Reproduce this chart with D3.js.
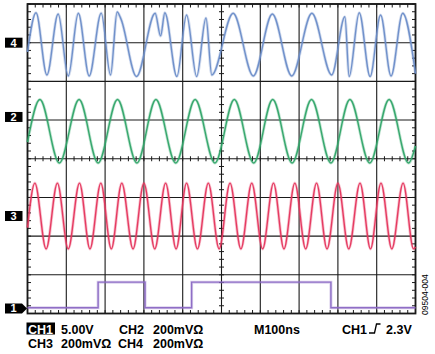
<!DOCTYPE html>
<html>
<head>
<meta charset="utf-8">
<script src="https://cdn.jsdelivr.net/npm/d3@7"></script>
<style>
  body { margin: 0; background: #fff; }
  svg { display: block; font-family: "Liberation Sans", Arial, sans-serif; }
</style>
</head>
<body>
<svg id="scope" width="435" height="354"></svg>
<script>

// CH1: digital data, volts
const ch1Time = [0, 182, 303, 423, 782, 1000];
const ch1Volts = [0.1, 3.4, 0.1, 3.4, 0.1, 0.1];

// CH2: 10MHz carrier, mV
const ch2Time = [0, 32, 82, 133, 182, 232, 282, 331, 382, 432, 483, 533, 583, 632, 682, 732, 782, 831, 882, 932, 982, 1000];
const ch2mV = [-130, 90, -238, 90, -238, 90, -238, 90, -238, 90, -238, 90, -238, 90, -238, 90, -238, 90, -238, 90, -238, -150];

// CH3: ~18MHz, mV
const ch3Time = [0, 19, 48, 77, 105, 134, 161, 189, 216, 243, 272, 300, 328, 356, 383, 410, 438, 466, 494,
                 522, 550, 578, 606, 634, 661, 689, 717, 745, 772, 800, 828, 857, 884, 911, 939, 968, 995, 1000];
const ch3mV = [-60, 170, -170, 170, -170, 170, -170, 170, -170, 170, -170, 170, -170, 170, -170, 170, -170, 170, -170,
               170, -170, 170, -170, 170, -170, 170, -170, 170, -170, 170, -170, 170, -170, 170, -170, 170, -170, -160];

// CH4: FSK output, mV
const ch4Time = [0, 22, 50, 79, 105, 131, 159, 190, 214, 231, 241, 281, 329, 343, 354, 385, 410, 436, 460, 475,
                 530, 582, 631, 681, 733, 784, 818, 829, 855, 883, 910, 937, 967, 1000];
const ch4mV = [-48, 155, -167, 148, -172, 152, -172, 153, -167, 159, 122, -175, 152, 35, 155, -175, 143, -175, 128, -167,
               152, -172, 148, -172, 152, -167, 134, -175, 155, -175, 143, -172, 152, -160];

const statusLine1 = [
  { text: '5.00V', x: 61 }, { text: 'CH2', x: 119 }, { text: '200mVΩ', x: 153 },
  { text: 'M100ns', x: 254 }, { text: 'CH1', x: 342 }, { text: '2.3V', x: 386 }
];
const statusLine2 = [
  { text: 'CH3', x: 28 }, { text: '200mVΩ', x: 61 }, { text: 'CH4', x: 118 }, { text: '200mVΩ', x: 153 }
];

const channels = [
  { id: '4', time: ch4Time, values: ch4mV, perDiv: 200, offset: 3, color: '#6a8cc8' },
  { id: '2', time: ch2Time, values: ch2mV, perDiv: 200, offset: 1.08, color: '#2fa468' },
  { id: '3', time: ch3Time, values: ch3mV, perDiv: 200, offset: -1.48, color: '#e5345c' },
  { id: '1', time: ch1Time, values: ch1Volts, perDiv: 5, offset: -3.87, color: '#8a68c4', step: true }
];

const plotLeft = 27.5, plotRight = 415.5, plotTop = 4, plotBottom = 313.5;

const svg = d3.select('#scope');
const x = d3.scaleLinear().domain([0, 1000]).range([plotLeft, plotRight]);
const y = d3.scaleLinear().domain([-4, 4]).range([plotBottom, plotTop]);

// graticule
const grid = svg.append('g').attr('stroke', '#1a1a1a').attr('fill', 'none');
grid.selectAll('.vl').data(x.ticks(10)).join('line')
  .attr('class', 'vl')
  .attr('x1', d => x(d)).attr('x2', d => x(d)).attr('y1', plotTop).attr('y2', plotBottom)
  .attr('stroke-width', 1.1);
grid.selectAll('.hl').data(y.ticks(8)).join('line')
  .attr('class', 'hl')
  .attr('x1', plotLeft).attr('x2', plotRight).attr('y1', d => y(d)).attr('y2', d => y(d))
  .attr('stroke-width', 1.1);
grid.append('rect')
  .attr('x', plotLeft).attr('y', plotTop).attr('width', plotRight - plotLeft).attr('height', plotBottom - plotTop)
  .attr('stroke-width', 1.8);

const minorX = d3.range(0, 1000.1, 20);
const minorY = d3.range(-4, 4.01, 0.2);
const ticks = svg.append('g').attr('stroke', '#1a1a1a').attr('stroke-width', 1);
// minor ticks on the border and on the two centre lines
minorX.forEach(t => {
  ticks.append('line').attr('x1', x(t)).attr('x2', x(t)).attr('y1', plotTop).attr('y2', plotTop + 3.5);
  ticks.append('line').attr('x1', x(t)).attr('x2', x(t)).attr('y1', plotBottom).attr('y2', plotBottom - 3.5);
  ticks.append('line').attr('x1', x(t)).attr('x2', x(t)).attr('y1', y(0) - 2.5).attr('y2', y(0) + 2.5);
});
minorY.forEach(v => {
  ticks.append('line').attr('y1', y(v)).attr('y2', y(v)).attr('x1', plotLeft).attr('x2', plotLeft + 3.5);
  ticks.append('line').attr('y1', y(v)).attr('y2', y(v)).attr('x1', plotRight).attr('x2', plotRight - 3.5);
  ticks.append('line').attr('y1', y(v)).attr('y2', y(v)).attr('x1', x(500) - 2.5).attr('x2', x(500) + 2.5);
});

// traces
const traces = svg.append('g');
channels.forEach(ch => {
  const pts = ch.time.map((t, i) => [t, ch.values[i]]);
  const line = d3.line()
    .x(d => x(d[0]))
    .y(d => y(ch.offset + d[1] / ch.perDiv))
    .curve(ch.step ? d3.curveStepAfter : d3.curveMonotoneX);
  traces.append('path').attr('d', line(pts))
    .attr('fill', 'none').attr('stroke', ch.color)
    .attr('stroke-width', 3).attr('stroke-opacity', 0.3);
  traces.append('path').attr('d', line(pts))
    .attr('fill', 'none').attr('stroke', ch.color)
    .attr('stroke-width', 1.4).attr('stroke-opacity', 0.95);
});

// ground markers
channels.forEach(ch => {
  const cy = y(ch.offset);
  const g = svg.append('g');
  if (ch.step) {
    g.append('path')
      .attr('d', `M5,${cy - 5}H22L27,${cy}L22,${cy + 5}H5Z`)
      .attr('fill', '#000');
  } else {
    g.append('rect').attr('x', 5).attr('y', cy - 5).attr('width', 17.5).attr('height', 10).attr('fill', '#000');
  }
  g.append('text').attr('x', 13.5).attr('y', cy + 4)
    .attr('text-anchor', 'middle').attr('fill', '#fff')
    .attr('font-size', 11).attr('font-weight', 'bold')
    .text(ch.id);
});

// status text
const status = svg.append('g').attr('font-size', 12.5).attr('font-weight', 'bold').attr('fill', '#000');
status.append('rect').attr('x', 26.5).attr('y', 322.5).attr('width', 28.5).attr('height', 12).attr('fill', '#000');
status.append('text').attr('x', 28).attr('y', 333.5).attr('fill', '#fff').text('CH1');
status.selectAll('.l1').data(statusLine1).join('text')
  .attr('class', 'l1')
  .attr('x', d => d.x).attr('y', 333.5).text(d => d.text);
status.selectAll('.l2').data(statusLine2).join('text')
  .attr('class', 'l2')
  .attr('x', d => d.x).attr('y', 347.5).text(d => d.text);
// rising edge trigger glyph
status.append('path')
  .attr('d', 'M369,333H374.5L376.5,324H380.5')
  .attr('fill', 'none').attr('stroke', '#000').attr('stroke-width', 1.3);

svg.append('text')
  .attr('transform', 'translate(428,315) rotate(-90)')
  .attr('font-size', 8.5).attr('fill', '#000')
  .text('09504-004');
</script>
</body>
</html>
